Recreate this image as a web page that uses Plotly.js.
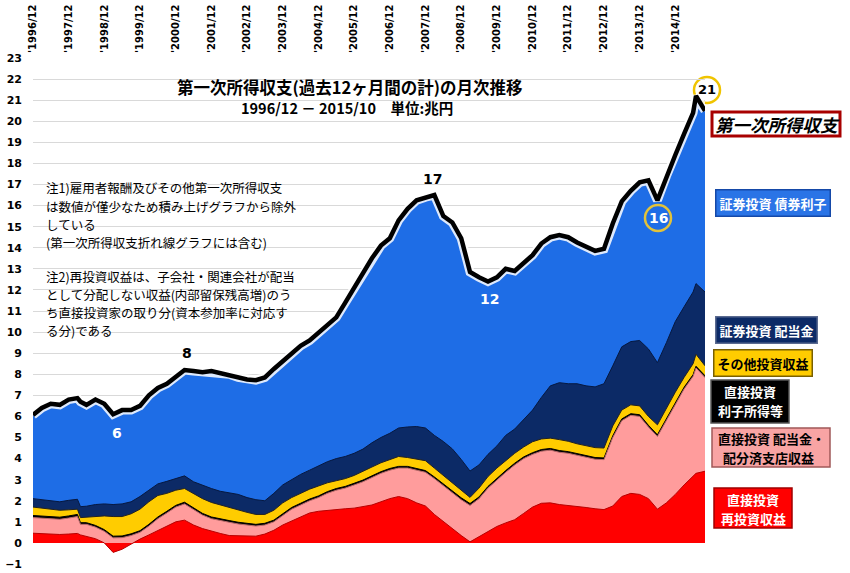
<!DOCTYPE html>
<html>
<head>
<meta charset="utf-8">
<script src="https://cdn.plot.ly/plotly-3.0.1.min.js"></script>
<style>
body{margin:0;background:#fff;}
#graph{width:850px;height:573px;}
</style>
</head>
<body>
<div id="graph"></div>
<script>
// mois (trimestriels + quelques points remarquables), 1996/12 - 2015/10
var dates = [
'1996-12','1997-03','1997-06','1997-09','1997-12',
'1998-03','1998-04','1998-06','1998-09','1998-12',
'1999-03','1999-06','1999-09','1999-12',
'2000-03','2000-06','2000-09','2000-12',
'2001-03','2001-06','2001-09','2001-12',
'2002-03','2002-06','2002-09','2002-12',
'2003-03','2003-06','2003-09','2003-12',
'2004-03','2004-06','2004-09','2004-12',
'2005-03','2005-06','2005-09','2005-12',
'2006-03','2006-06','2006-09','2006-12',
'2007-03','2007-06','2007-09','2007-12',
'2008-03','2008-06','2008-09','2008-12',
'2009-03','2009-06','2009-09','2009-12',
'2010-03','2010-06','2010-09','2010-12',
'2011-03','2011-06','2011-09','2011-12',
'2012-03','2012-06','2012-09','2012-12',
'2013-03','2013-06','2013-09','2013-12',
'2014-03','2014-06','2014-09','2014-12',
'2015-03','2015-06','2015-07','2015-10'];

// 直接投資 再投資収益 (兆円)
var saitoushi = [
.46,.44,.40,.40,.42,
.45,.38,.30,.20,0.0,
-.45,-.30,-.05,.18,
.38,.60,.80,1.0,
1.08,.85,.68,.55,
.45,.35,.33,.32,
.32,.42,.60,.85,
1.05,1.25,1.42,1.5,
1.55,1.6,1.62,1.65,
1.72,1.8,1.95,2.1,
2.2,2.1,1.9,1.75,
1.35,1.0,.65,.35,
.05,.3,.55,.78,
.95,1.1,1.4,1.7,
1.88,1.9,1.82,1.78,
1.72,1.68,1.62,1.58,
1.75,2.2,2.35,2.3,
2.1,1.6,1.9,2.3,
2.75,3.2,3.3,3.4];

// 直接投資 配当金・配分済支店収益
var haitou = [
.74,.73,.72,.72,.76,
.80,.50,.58,.55,.55,
.69,.55,.40,.32,
.42,.55,.62,.70,
.77,.75,.64,.60,
.60,.63,.57,.53,
.48,.43,.40,.45,
.55,.55,.58,.65,
.80,.90,.98,1.10,
1.18,1.30,1.35,1.35,
1.35,1.45,1.55,1.60,
1.70,1.70,1.70,1.70,
1.73,1.80,2.05,2.22,
2.40,2.60,2.60,2.50,
2.47,2.50,2.48,2.47,
2.43,2.37,2.35,2.37,
3.25,3.60,3.70,3.70,
3.40,3.45,3.90,4.30,
4.55,4.70,5.00,4.45];

// 直接投資 利子所得等
var rishi = [
.10,.10,.10,.10,.10,
.10,.08,.08,.08,.08,
.08,.08,.08,.08,
.08,.08,.08,.08,
.08,.08,.08,.08,
.08,.08,.08,.08,
.08,.08,.08,.08,
.08,.08,.08,.08,
.08,.08,.08,.08,
.08,.08,.08,.08,
.08,.08,.08,.08,
.08,.09,.09,.09,
.09,.08,.08,.08,
.08,.08,.08,.08,
.08,.08,.08,.08,
.08,.08,.08,.08,
.08,.08,.08,.08,
.08,.08,.08,.08,
.08,.08,.08,.08];

// その他投資収益
var sonota = [
.40,.38,.35,.33,.29,
.25,.24,.26,.44,.65,
.93,.92,.95,1.02,
1.07,1.02,.85,.72,
.65,.67,.70,.69,
.67,.62,.60,.52,
.47,.42,.47,.52,
.47,.47,.47,.47,
.42,.37,.37,.37,
.40,.42,.42,.42,
.47,.42,.45,.47,
.42,.42,.42,.37,
.29,.42,.47,.47,
.47,.47,.47,.52,
.50,.49,.52,.49,
.47,.47,.47,.47,
.47,.42,.42,.42,
.42,.47,.52,.47,
.47,.52,.57,.47];

// 証券投資 配当金
var shokenHaitou = [
.40,.40,.40,.40,.45,
.47,.52,.52,.55,.57,
.57,.60,.57,.60,
.55,.55,.57,.55,
.60,.55,.62,.66,
.65,.70,.72,.70,
.70,.65,.80,.85,
.85,.90,.90,.95,
1.0,1.05,1.05,1.05,
1.07,1.15,1.2,1.25,
1.35,1.45,1.54,1.55,
1.55,1.6,1.6,1.45,
1.25,1.1,1.05,1.05,
1.2,1.15,1.3,1.5,
1.97,2.48,2.7,2.73,
2.85,2.85,2.88,3.05,
2.85,3.0,3.0,3.1,
3.2,2.95,3.1,3.35,
3.35,3.4,3.35,3.5];

// 証券投資 債券利子
var saiken = [
3.92,4.30,4.58,4.55,4.73,
4.75,4.93,4.76,4.93,4.70,
4.23,4.40,4.30,4.25,
4.45,4.50,4.58,4.80,
4.97,5.20,5.33,5.52,
5.55,5.57,5.50,5.55,
5.62,5.80,5.85,5.80,
5.90,6.05,6.10,6.25,
6.45,6.65,7.25,7.80,
8.30,8.70,9.05,9.20,
9.80,10.30,10.68,10.90,
11.35,10.65,10.70,10.45,
9.40,8.85,8.15,7.95,
7.85,7.45,7.40,7.30,
7.25,7.00,6.95,6.90,
6.65,6.55,6.40,6.35,
6.70,6.85,7.10,7.45,
7.95,7.65,7.85,7.85,
8.15,8.45,8.85,8.55];

// 第一次所得収支 (折れ線)
var total = [
6.07,6.40,6.60,6.55,6.80,
6.87,6.70,6.55,6.80,6.60,
6.10,6.30,6.30,6.50,
7.00,7.35,7.55,7.90,
8.20,8.15,8.10,8.15,
8.05,8.00,7.85,7.75,
7.72,7.85,8.25,8.60,
8.95,9.35,9.60,9.95,
10.35,10.70,11.40,12.10,
12.80,13.50,14.10,14.45,
15.30,15.85,16.25,16.40,
16.50,15.50,15.20,14.45,
12.85,12.60,12.40,12.60,
13.00,12.90,13.30,13.65,
14.20,14.50,14.60,14.50,
14.25,14.05,13.85,13.95,
15.15,16.20,16.70,17.10,
17.20,16.25,17.40,18.40,
19.40,20.40,21.20,20.50];

// notes (une ligne par entrée) et leur position verticale (px depuis le haut)
var notesLignes = [
'注1)雇用者報酬及びその他第一次所得収支',
'は数値が僅少なため積み上げグラフから除外',
'している',
'(第一次所得収支折れ線グラフには含む)',
'注2)再投資収益は、子会社・関連会社が配当',
'として分配しない収益(内部留保残高増)のう',
'ち直接投資家の取り分(資本参加率に対応す',
'る分)である'];
var notesY = [188, 206.2, 224.4, 242.6, 276, 294.2, 312.4, 330.6];

var JP = '"Noto Sans CJK JP", "Noto Sans", sans-serif';

// couches empilées, du bas vers le haut
var couches = [
	{y: saitoushi,    fill: '#ff0000', line: '#b80000'},
	{y: haitou,       fill: '#ff9c9c', line: '#b86a6a'},
	{y: rishi,        fill: '#000000', line: '#000000'},
	{y: sonota,       fill: '#ffcc00', line: '#222222'},
	{y: shokenHaitou, fill: '#0c2a66', line: '#061840'},
	{y: saiken,       fill: '#1e6de6', line: '#1a5fd0'}
];

// cumul (tracé "peintre" : chaque couche remplie jusqu'à zéro, du haut vers le bas)
var acc = dates.map(function(){ return 0; });
couches.forEach(function(c){
	acc = acc.map(function(v, i){ return v + c.y[i]; });
	c.cum = acc.slice();
});

var data = [];
for (var k = couches.length - 1; k >= 0; k--) {
	data.push({
		x: dates, y: couches[k].cum,
		type: 'scatter', mode: 'lines',
		fill: 'tozeroy', fillcolor: couches[k].fill,
		line: {color: couches[k].line, width: 1},
		hoverinfo: 'skip'
	});
}
// halo blanc + ligne du total
data.push({x: dates, y: total, type: 'scatter', mode: 'lines',
	line: {color: 'rgba(255,255,255,0.85)', width: 9}, hoverinfo: 'skip'});
data.push({x: dates, y: total, type: 'scatter', mode: 'lines',
	line: {color: '#000000', width: 4.5}, hoverinfo: 'skip'});

// pixels -> coordonnées papier (marges l=33, t=58, zone 672x506)
function px(x) { return (x - 33) / 672; }
function py(y) { return (564 - y) / 506; }

// texte placé en coordonnées papier, centré
function texte(t, x, y, couleur, taille, extra) {
	var a = {
		text: t, x: x, y: y, xref: 'paper', yref: 'paper',
		xanchor: 'center', yanchor: 'middle', showarrow: false,
		font: {family: JP, size: taille, color: couleur, weight: 'bold'}
	};
	for (var p in extra) a[p] = extra[p];
	return a;
}
function boite(t, x, y, fond, bord, couleur) {
	return texte(t, x, y, couleur, 13, {bgcolor: fond, bordercolor: bord, borderwidth: 1.5, borderpad: 3});
}
function rect(x0, x1, y0, y1, fond, bord, ep) {
	return {type: 'rect', xref: 'paper', yref: 'paper', x0: px(x0), x1: px(x1), y0: py(y1), y1: py(y0),
		fillcolor: fond, line: {color: bord, width: ep}};
}

var NUM = {family: 'DejaVu Sans', size: 14, weight: 'bold'};

var annotations = [
	texte('第一次所得収支(過去12ヶ月間の計)の月次推移', px(349), py(87), '#000', 16.5),
	texte('1996/12 － 2015/10　単位:兆円', px(347), py(107), '#000', 14.5),
	// valeurs remarquables
	{text: '8', x: '2001-03-25', y: 9.0, showarrow: false, xanchor: 'center', yanchor: 'middle', font: Object.assign({color: '#000'}, NUM)},
	{text: '6', x: '1999-04-05', y: 5.2, showarrow: false, xanchor: 'center', yanchor: 'middle', font: Object.assign({color: '#fff'}, NUM)},
	{text: '17', x: '2008-02-15', y: 17.25, showarrow: false, xanchor: 'center', yanchor: 'middle', font: Object.assign({color: '#000'}, NUM)},
	{text: '12', x: '2009-09-20', y: 11.55, showarrow: false, xanchor: 'center', yanchor: 'middle', font: Object.assign({color: '#fff'}, NUM)},
	texte('16', px(658), py(218), '#fff', 14, {font: Object.assign({color: '#fff'}, NUM)}),
	texte('21', px(707), py(90), '#000', 13, {font: {family: 'DejaVu Sans', size: 13, color: '#000', weight: 'bold'}}),
	// étiquettes de séries
	texte('第一次所得収支', px(777), py(124), '#000', 17.5,
		{font: {family: JP, size: 17.5, color: '#000', style: 'italic', weight: 'bold'}}),
	boite('証券投資 債券利子', px(773), py(202.5), '#2a74e6', '#1549a8', '#fff'),
	boite('証券投資 配当金', px(766), py(329.5), '#0c2a66', '#5a6a90', '#fff'),
	boite('その他投資収益', px(762.5), py(362.5), '#ffcc00', '#7a6000', '#000'),
	texte('直接投資', px(750), py(391.5), '#fff', 13),
	texte('利子所得等', px(750), py(410.5), '#fff', 13),
	texte('直接投資 配当金・', px(771), py(438), '#000', 13),
	texte('配分済支店収益', px(768), py(457), '#000', 13),
	texte('直接投資', px(753), py(499), '#fff', 13),
	texte('再投資収益', px(753), py(518), '#fff', 13)
];
notesLignes.forEach(function(l, i){
	annotations.push(texte(l, px(45), py(notesY[i]), '#000', 12.5,
		{xanchor: 'left', borderpad: 0, font: {family: JP, size: 12.5, color: '#000'}}));
});

var layout = {
	width: 850, height: 573,
	margin: {l: 33, r: 145, t: 58, b: 9},
	paper_bgcolor: '#ffffff', plot_bgcolor: '#ffffff',
	showlegend: false,
	xaxis: {
		type: 'date', side: 'top',
		range: ['1996-12-01', '2015-10-01'],
		tick0: '1996-12-01', dtick: 'M12', tickformat: "'%Y/%m",
		tickangle: -90, showgrid: false, zeroline: false, showline: false,
		ticks: '', ticklabelstandoff: 4,
		tickfont: {family: 'DejaVu Sans', size: 10, color: '#000', weight: 'bold'}
	},
	yaxis: {
		range: [-1, 23], dtick: 1, tick0: 0,
		showgrid: true, gridcolor: '#d9d9d9', gridwidth: 1,
		zeroline: false, showline: false, ticks: '', ticklabelstandoff: 10,
		tickfont: {family: 'DejaVu Sans', size: 11, color: '#000', weight: 'bold'}
	},
	annotations: annotations,
	shapes: [
		{type: 'circle', xref: 'paper', yref: 'paper', xsizemode: 'pixel', ysizemode: 'pixel',
			xanchor: px(658), yanchor: py(218), x0: -13, x1: 13, y0: -13, y1: 13,
			line: {color: '#e2c23a', width: 2.5}},
		{type: 'circle', xref: 'paper', yref: 'paper', xsizemode: 'pixel', ysizemode: 'pixel',
			xanchor: px(707), yanchor: py(90), x0: -13, x1: 13, y0: -13, y1: 13,
			fillcolor: '#ffffff', line: {color: '#f0c400', width: 2.5}, layer: 'below'},
		rect(712, 840, 112, 136, '#ffffff', '#a80000', 3),
		rect(711, 789, 380, 423, '#000000', '#555555', 1.5),
		rect(712, 830, 428, 467, '#f8a4a4', '#a05858', 1.5),
		rect(714, 792, 488, 528, '#ff0000', '#a00000', 1.5)
	]
};

Plotly.newPlot('graph', data, layout, {displayModeBar: false, staticPlot: true});
</script>
</body>
</html>
